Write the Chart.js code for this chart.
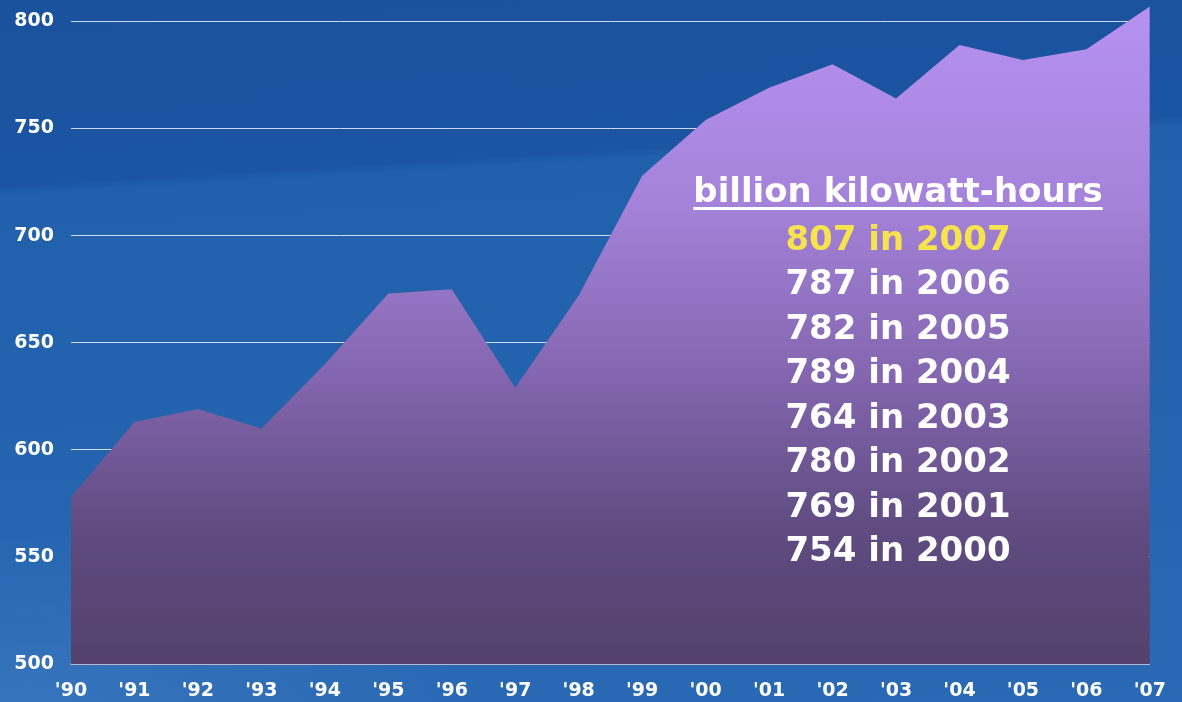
<!DOCTYPE html>
<html>
<head>
<meta charset="utf-8">
<script src="https://cdn.jsdelivr.net/npm/chart.js@4/dist/chart.umd.min.js"></script>
<style>
  html, body { margin: 0; padding: 0; }
  body {
    width: 1182px; height: 702px; overflow: hidden;
    background:
      radial-gradient(ellipse 700px 260px at 0% 100%, rgba(80,140,210,0.35), rgba(80,140,210,0) 70%),
      linear-gradient(176.6deg, #1a529e 0%, #1b54a0 24%, #2161ab 25.5%, #2464ae 60%, #2a69b3 100%);
  }
  #wrap { position: relative; width: 1182px; height: 702px; }
  #note {
    position: absolute; left: 598px; top: 168px; width: 600px;
    text-align: center; color: #fff;
    font-family: "DejaVu Sans", sans-serif; font-weight: bold; font-size: 34px;
    line-height: 44.5px; white-space: pre;
  }
  #note .head {
    text-decoration: underline; text-decoration-thickness: 3px; text-underline-offset: 5px;
    margin-bottom: 3px;
  }
  #note .hot { color: #f7e34e; }
</style>
</head>
<body>
<div id="wrap">
  <canvas id="chart" width="1182" height="702"></canvas>
  <div id="note"></div>
</div>
<script>
// data (billion kWh)
const years = [1990, 1991, 1992, 1993, 1994, 1995, 1996, 1997, 1998, 1999,
               2000, 2001, 2002, 2003, 2004, 2005, 2006, 2007];
const yearLabels = ["'90", "'91", "'92", "'93", "'94", "'95", "'96", "'97", "'98", "'99",
                    "'00", "'01", "'02", "'03", "'04", "'05", "'06", "'07"];
const kwh = [578, 613, 619, 610, 640, 673, 675, 629, 672, 728,
             754, 769, 780, 764, 789, 782, 787, 807];
const yTicks = [500, 550, 600, 650, 700, 750, 800];
const noteTitle = 'billion kilowatt-hours';

// side note: newest year first, from 2000 on
function buildNote() {
  const box = document.getElementById('note');
  let html = `<div class="head">${noteTitle}</div>`;
  for (let i = kwh.length - 1; i >= 0; i--) {
    if (years[i] < 2000) break;
    const cls = i === kwh.length - 1 ? 'hot' : '';
    html += `<div class="${cls}">${kwh[i]} in ${years[i]}</div>`;
  }
  box.innerHTML = html;
}

function areaFill(context) {
  const chart = context.chart;
  const a = chart.chartArea;
  if (!a) return '#8a6cb5';
  const g = chart.ctx.createLinearGradient(0, a.top, 0, a.bottom);
  g.addColorStop(0, '#b792f2');
  g.addColorStop(0.3, '#a583da');
  g.addColorStop(0.55, '#8668b2');
  g.addColorStop(0.8, '#5f4b80');
  g.addColorStop(1, '#53416c');
  return g;
}

const tickFont = { family: '"DejaVu Sans", sans-serif', weight: 'bold', size: 19 };

new Chart(document.getElementById('chart').getContext('2d'), {
  type: 'line',
  data: {
    labels: yearLabels,
    datasets: [{
      data: kwh,
      fill: 'start',
      backgroundColor: areaFill,
      borderWidth: 0,
      pointRadius: 0,
      tension: 0
    }]
  },
  options: {
    responsive: false,
    animation: false,
    layout: { padding: { top: 0, right: 28, left: 0, bottom: 0 } },
    plugins: { legend: { display: false }, tooltip: { enabled: false } },
    scales: {
      x: {
        grid: { display: false, drawTicks: false },
        border: { display: true, color: '#a095ba', width: 1.5 },
        ticks: { color: '#fff', font: tickFont, padding: 16, maxRotation: 0, autoSkip: false },
        afterFit: s => { s.height = 38; }
      },
      y: {
        // headroom above 800 so the 2007 peak is not cut off
        min: 500, max: 810,
        afterBuildTicks: s => { s.ticks = yTicks.map(v => ({ value: v })); },
        grid: { color: 'rgba(255,255,255,0.78)', lineWidth: 1, drawTicks: false },
        border: { display: false },
        ticks: { color: '#fff', font: tickFont, padding: 17 },
        afterFit: s => { s.width = 71; s.paddingTop = 0; s.paddingBottom = 0; }
      }
    }
  }
});

buildNote();
</script>
</body>
</html>
